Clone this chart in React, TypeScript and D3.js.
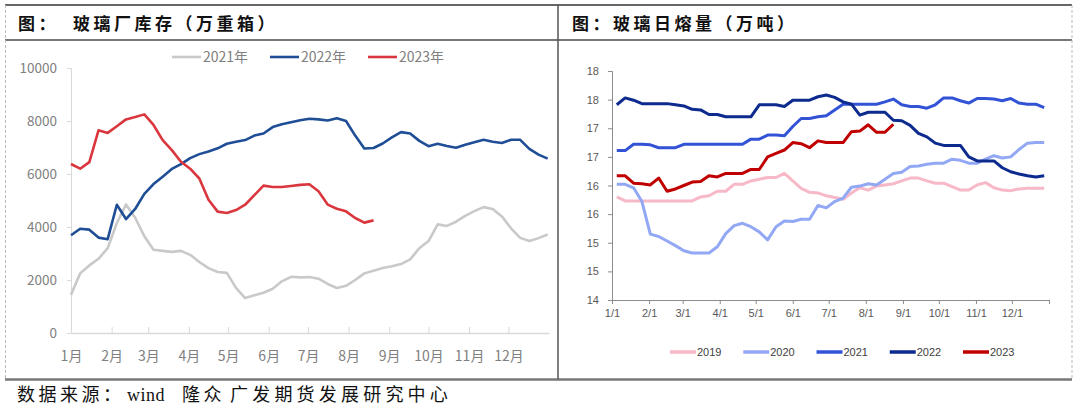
import React, { useEffect, useRef } from 'react';
import * as d3 from 'd3';

// 玻璃厂库存（万重箱），每周一个点
const inv2021 = [1447, 2250, 2550, 2800, 3200, 4150, 4850, 4350, 3650, 3140, 3100, 3060, 3100, 2950, 2680, 2450, 2300, 2270, 1700, 1320, 1420, 1520, 1670, 1950, 2120, 2100, 2110, 2050, 1850, 1700, 1780, 2000, 2250, 2350, 2450, 2520, 2600, 2780, 3200, 3470, 4100, 4040, 4200, 4420, 4600, 4750, 4680, 4400, 3950, 3590, 3470, 3580, 3720];
const inv2022 = [3690, 3935, 3900, 3600, 3540, 4840, 4300, 4680, 5250, 5620, 5900, 6190, 6370, 6600, 6750, 6850, 6970, 7140, 7220, 7280, 7450, 7530, 7770, 7880, 7950, 8026, 8085, 8060, 8020, 8100, 8000, 7450, 6960, 6980, 7150, 7380, 7580, 7530, 7250, 7050, 7140, 7060, 6990, 7100, 7200, 7290, 7220, 7170, 7290, 7290, 6950, 6730, 6580];
const inv2023 = [6378, 6200, 6450, 7650, 7550, 7800, 8060, 8150, 8250, 7850, 7280, 6900, 6460, 6200, 5830, 5030, 4580, 4530, 4640, 4840, 5200, 5560, 5510, 5510, 5550, 5590, 5611, 5350, 4845, 4690, 4590, 4340, 4165, 4250];

const invSeries = [
  { name: '2021年', values: inv2021, color: '#c9c9c9' },
  { name: '2022年', values: inv2022, color: '#1f4e96' },
  { name: '2023年', values: inv2023, color: '#d9363e' },
];
const invTicks = [0, 2000, 4000, 6000, 8000, 10000];
const monthLabelsCn = ['1月', '2月', '3月', '4月', '5月', '6月', '7月', '8月', '9月', '10月', '11月', '12月'];

// 玻璃日熔量（万吨）
const melt2019 = [15.80, 15.73, 15.73, 15.73, 15.73, 15.73, 15.73, 15.73, 15.73, 15.73, 15.80, 15.82, 15.90, 15.90, 16.02, 16.02, 16.08, 16.11, 16.14, 16.14, 16.21, 16.08, 15.95, 15.88, 15.87, 15.82, 15.79, 15.76, 15.87, 15.96, 15.92, 15.99, 16.01, 16.03, 16.08, 16.13, 16.13, 16.08, 16.04, 16.04, 15.98, 15.92, 15.92, 16.01, 16.05, 15.96, 15.92, 15.91, 15.94, 15.95, 15.95, 15.95];
const melt2020 = [16.02, 16.02, 15.96, 15.72, 15.15, 15.11, 15.03, 14.95, 14.86, 14.82, 14.82, 14.82, 14.93, 15.16, 15.30, 15.34, 15.28, 15.19, 15.05, 15.28, 15.38, 15.37, 15.41, 15.41, 15.65, 15.61, 15.72, 15.78, 15.97, 15.99, 16.03, 16.01, 16.11, 16.21, 16.23, 16.33, 16.34, 16.37, 16.39, 16.39, 16.46, 16.44, 16.39, 16.39, 16.46, 16.52, 16.48, 16.50, 16.63, 16.74, 16.75, 16.75];
const melt2021 = [16.61, 16.61, 16.72, 16.72, 16.71, 16.66, 16.66, 16.66, 16.72, 16.72, 16.72, 16.72, 16.72, 16.72, 16.72, 16.72, 16.81, 16.81, 16.88, 16.88, 16.87, 17.03, 17.17, 17.17, 17.20, 17.22, 17.32, 17.42, 17.42, 17.42, 17.42, 17.42, 17.46, 17.51, 17.41, 17.38, 17.38, 17.35, 17.41, 17.53, 17.53, 17.48, 17.44, 17.52, 17.52, 17.51, 17.48, 17.52, 17.44, 17.42, 17.42, 17.36];
const melt2022 = [17.41, 17.53, 17.49, 17.43, 17.43, 17.43, 17.43, 17.41, 17.39, 17.33, 17.32, 17.24, 17.24, 17.20, 17.20, 17.20, 17.20, 17.41, 17.41, 17.41, 17.38, 17.49, 17.49, 17.49, 17.55, 17.58, 17.54, 17.46, 17.42, 17.23, 17.28, 17.28, 17.28, 17.14, 17.13, 17.05, 16.91, 16.85, 16.74, 16.70, 16.70, 16.70, 16.50, 16.43, 16.43, 16.43, 16.31, 16.24, 16.20, 16.17, 16.15, 16.17];
const melt2023 = [16.17, 16.17, 16.04, 16.03, 16.01, 16.13, 15.90, 15.94, 16.00, 16.06, 16.07, 16.17, 16.15, 16.21, 16.21, 16.21, 16.28, 16.28, 16.50, 16.56, 16.62, 16.75, 16.73, 16.66, 16.78, 16.75, 16.75, 16.75, 16.94, 16.95, 17.06, 16.93, 16.93, 17.07];

const meltSeries = [
  { name: '2019', values: melt2019, color: '#f7b8c8' },
  { name: '2020', values: melt2020, color: '#93a8f4' },
  { name: '2021', values: melt2021, color: '#3353d6' },
  { name: '2022', values: melt2022, color: '#0d2a8e' },
  { name: '2023', values: melt2023, color: '#c00000' },
];
const meltTicks = [14, 14.5, 15, 15.5, 16, 16.5, 17, 17.5, 18];
const monthLabelsNum = ['1/1', '2/1', '3/1', '4/1', '5/1', '6/1', '7/1', '8/1', '9/1', '10/1', '11/1', '12/1'];

// 每月第一天在一年中的天数
const monthStartDays = [0, 31, 59, 90, 120, 151, 181, 212, 243, 273, 304, 334];

const CJK = "'Noto Sans CJK SC', sans-serif";

export default function App() {
  const svgRef = useRef<SVGSVGElement>(null);

  useEffect(() => {
    document.body.style.margin = '0';
    const svg = d3.select(svgRef.current);
    svg.selectAll('*').remove();

    svg.append('rect').attr('width', 1080).attr('height', 410).attr('fill', '#fff');

    // frame
    svg.append('line').attr('x1', 5).attr('x2', 1072).attr('y1', 5).attr('y2', 5)
      .attr('stroke', '#333').attr('stroke-width', 1.5);
    svg.append('line').attr('x1', 5).attr('x2', 1072).attr('y1', 40).attr('y2', 40)
      .attr('stroke', '#777').attr('stroke-width', 2);
    svg.append('line').attr('x1', 5).attr('x2', 1072).attr('y1', 379.5).attr('y2', 379.5)
      .attr('stroke', '#777').attr('stroke-width', 2.5);
    [5.5, 1072].forEach(x => {
      svg.append('line').attr('x1', x).attr('x2', x).attr('y1', 5).attr('y2', 379)
        .attr('stroke', '#bbb').attr('stroke-width', 1).attr('stroke-dasharray', '3,2');
    });
    svg.append('line').attr('x1', 558).attr('x2', 558).attr('y1', 5).attr('y2', 379)
      .attr('stroke', '#555').attr('stroke-width', 1.5);

    // titles
    const titleStyle = (t: d3.Selection<SVGTextElement, unknown, null, undefined>) =>
      t.attr('font-family', CJK).attr('font-weight', 'bold').attr('font-size', 17)
        .attr('letter-spacing', 3.5).attr('fill', '#111');
    titleStyle(svg.append('text').attr('x', 18).attr('y', 30).text('图：'));
    titleStyle(svg.append('text').attr('x', 73).attr('y', 30).text('玻璃厂库存（万重箱）'));
    titleStyle(svg.append('text').attr('x', 572).attr('y', 30).text('图：玻璃日熔量（万吨）'));

    // footer
    const foot = (x: number, s: string, spacing: number, fam: string) =>
      svg.append('text').attr('x', x).attr('y', 401).attr('font-size', 18)
        .attr('font-family', fam).attr('letter-spacing', spacing).attr('fill', '#111').text(s);
    foot(17, '数据来源：', 3.5, CJK);
    foot(127, 'wind', 0.5, "'Liberation Serif', serif");
    foot(182, '隆众', 3.5, CJK);
    foot(230, '广发期货发展研究中心', 4.2, CJK);

    // ---------- left chart ----------
    const xL = d3.scaleLinear().domain([0, 365]).range([71, 549]);
    const yL = d3.scaleLinear().domain([0, 10000]).range([333, 68]);
    const gL = svg.append('g');
    const grayText = '#808080';

    const axL = gL.append('g').attr('transform', 'translate(71,0)')
      .call(d3.axisLeft(yL).tickValues(invTicks).tickSize(4).tickPadding(10).tickFormat(d3.format('d')));
    axL.select('.domain').attr('stroke', '#d9d9d9');
    axL.selectAll('.tick line').attr('stroke', '#d9d9d9');
    axL.selectAll('text').attr('font-family', CJK).attr('font-size', 13.5).attr('fill', grayText);

    const axLB = gL.append('g').attr('transform', 'translate(0,333)')
      .call(d3.axisBottom(xL).tickValues(monthStartDays).tickSizeInner(-6).tickSizeOuter(0)
        .tickPadding(18).tickFormat((d, i) => monthLabelsCn[i]));
    axLB.select('.domain').attr('stroke', '#d9d9d9').attr('stroke-width', 1.5);
    axLB.selectAll('.tick line').attr('stroke', '#d9d9d9');
    axLB.selectAll('text').attr('font-family', CJK).attr('font-size', 14).attr('fill', grayText);

    const lineL = d3.line<number>().x((d, i) => xL(i * 7)).y(d => yL(d)).curve(d3.curveLinear);
    invSeries.forEach(s => {
      gL.append('path').attr('d', lineL(s.values)).attr('fill', 'none')
        .attr('stroke', s.color).attr('stroke-width', 2.6).attr('stroke-linejoin', 'round');
    });

    const legL = d3.scalePoint<string>().domain(invSeries.map(s => s.name)).range([172, 368]);
    invSeries.forEach(s => {
      const x = legL(s.name)!;
      gL.append('line').attr('x1', x).attr('x2', x + 29).attr('y1', 57).attr('y2', 57)
        .attr('stroke', s.color).attr('stroke-width', 2.6);
      gL.append('text').attr('x', x + 31).attr('y', 62).attr('font-family', CJK)
        .attr('font-size', 14).attr('fill', grayText).text(s.name);
    });

    // ---------- right chart ----------
    const xR = d3.scaleLinear().domain([0, 365]).range([612, 1049]);
    const yR = d3.scaleLinear().domain([14, 18]).range([300, 71]);
    const gR = svg.append('g');
    const darkText = '#595959';
    const SANS = "'Liberation Sans', Arial, sans-serif";

    const axR = gR.append('g').attr('transform', 'translate(612,0)')
      .call(d3.axisLeft(yR).tickValues(meltTicks).tickSize(4).tickPadding(9)
        .tickFormat(d => String(Math.round(+d))));
    axR.select('.domain').attr('stroke', '#8c8c8c');
    axR.selectAll('.tick line').attr('stroke', '#8c8c8c');
    axR.selectAll('text').attr('font-family', SANS).attr('font-size', 11).attr('fill', darkText);

    const axRB = gR.append('g').attr('transform', 'translate(0,300)')
      .call(d3.axisBottom(xR).tickValues([...monthStartDays, 365]).tickSizeInner(4).tickSizeOuter(0)
        .tickPadding(5).tickFormat((d, i) => monthLabelsNum[i] ?? ''));
    axRB.select('.domain').attr('stroke', '#8c8c8c');
    axRB.selectAll('.tick line').attr('stroke', '#8c8c8c');
    axRB.selectAll('text').attr('font-family', SANS).attr('font-size', 11).attr('fill', darkText);

    const lineR = d3.line<number>().x((d, i) => xR(4 + i * 7)).y(d => yR(d));
    meltSeries.forEach(s => {
      gR.append('path').attr('d', lineR(s.values)).attr('fill', 'none')
        .attr('stroke', s.color).attr('stroke-width', 3).attr('stroke-linejoin', 'round');
    });

    const legR = d3.scalePoint<string>().domain(meltSeries.map(s => s.name)).range([670, 963]);
    meltSeries.forEach(s => {
      const x = legR(s.name)!;
      gR.append('line').attr('x1', x).attr('x2', x + 26).attr('y1', 352).attr('y2', 352)
        .attr('stroke', s.color).attr('stroke-width', 3.5);
      gR.append('text').attr('x', x + 27).attr('y', 356).attr('font-family', SANS)
        .attr('font-size', 11).attr('fill', '#404040').text(s.name);
    });
  }, []);

  return <svg ref={svgRef} width={1080} height={410} style={{ display: 'block' }} />;
}
